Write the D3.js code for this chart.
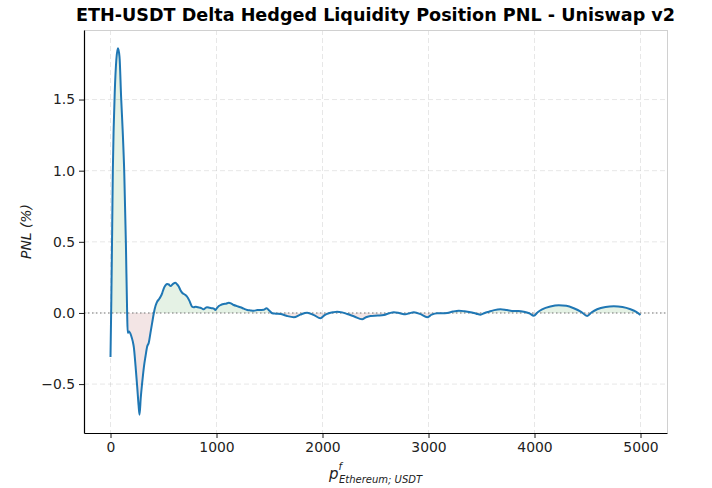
<!DOCTYPE html>
<html>
<head>
<meta charset="utf-8">
<script src="https://cdn.jsdelivr.net/npm/d3@7"></script>
<style>
  body { margin: 0; background: #fff; }
  svg { font-family: "DejaVu Sans", sans-serif; }
</style>
</head>
<body>
<div id="chart"></div>
<script>
// price of ETH in USDT (x) and delta hedged LP PNL in % (y)
const prices = [0, 8, 16, 22, 30, 40, 55, 70, 85, 100, 115, 130, 145, 157, 162, 175, 195, 210, 220, 236, 252, 265, 274, 285, 299, 315, 330, 346, 361, 377,
  393, 409, 425, 440, 456, 472, 488, 503, 520, 535, 550, 566, 590, 613, 630, 645, 660, 676, 700, 723, 745, 770, 785, 802, 825, 849, 865, 880, 895,
  910, 935, 959, 975, 990, 1005, 1022, 1045, 1069, 1090, 1116, 1140, 1163, 1195, 1226, 1258, 1290, 1320, 1352, 1385, 1415, 1445, 1472, 1500, 1525,
  1560, 1604, 1660, 1730, 1790, 1855, 1920, 1981, 2020, 2060, 2100, 2138, 2185, 2233, 2300, 2374, 2410, 2453, 2520, 2579, 2630, 2673, 2730, 2783,
  2820, 2862, 2930, 2987, 3030, 3082, 3130, 3176, 3230, 3286, 3340, 3396, 3450, 3491, 3530, 3569, 3620, 3679, 3740, 3805, 3850, 3899, 3950, 3994,
  4030, 4072, 4150, 4229, 4300, 4371, 4440, 4497, 4540, 4591, 4670, 4748, 4830, 4906, 4960, 5000];
const pnl = [-0.31, 0.1, 0.6, 1.0, 1.3, 1.55, 1.78, 1.86, 1.8, 1.52, 1.28, 0.98, 0.5, 0.0, -0.14, -0.13, -0.16, -0.2, -0.24, -0.37, -0.52, -0.65, -0.715, -0.6, -0.49, -0.38, -0.306, -0.236, -0.21, -0.14,
  -0.07, 0.0, 0.05, 0.079, 0.095, 0.114, 0.14, 0.173, 0.195, 0.203, 0.2, 0.189, 0.205, 0.212, 0.2, 0.184, 0.16, 0.142, 0.13, 0.114, 0.085, 0.044, 0.04, 0.044, 0.04, 0.037, 0.03, 0.026, 0.035,
  0.04, 0.036, 0.033, 0.03, 0.021, 0.035, 0.049, 0.058, 0.063, 0.065, 0.072, 0.066, 0.056, 0.048, 0.04, 0.03, 0.021, 0.018, 0.016, 0.02, 0.021, 0.022, 0.033, 0.015, -0.002,
  -0.005, -0.007, -0.02, -0.03, -0.012, 0.002, -0.015, -0.037, -0.015, -0.002, 0.005, 0.009, 0.004, -0.007, -0.025, -0.044, -0.03, -0.021, -0.018, -0.014, -0.002, 0.005, -0.002, -0.009,
  -0.002, 0.005, -0.01, -0.03, -0.012, -0.002, -0.002, 0.0, 0.01, 0.016, 0.012, 0.005, -0.005, -0.012, 0.0, 0.009, 0.02, 0.026, 0.02, 0.014, 0.014, 0.009, -0.002, -0.019,
  0.005, 0.025, 0.045, 0.054, 0.05, 0.033, 0.008, -0.021, 0.005, 0.026, 0.042, 0.047, 0.042, 0.026, 0.008, -0.014];
const xTicks = [0, 1000, 2000, 3000, 4000, 5000];
const yTicks = [-0.5, 0.0, 0.5, 1.0, 1.5];

const width = 712;
const height = 488;
const margin = {top: 30, right: 45, bottom: 55, left: 84};

const data = prices.map((p, i) => ({x: p, y: pnl[i]}));

const x = d3.scaleLinear().domain([-250, 5250]).range([margin.left, width - margin.right]);
const yMin = d3.min(pnl), yMax = d3.max(pnl), pad = (yMax - yMin) * 0.05;
const y = d3.scaleLinear().domain([yMin - pad, yMax + pad]).range([height - margin.bottom, margin.top]);

const svg = d3.select('#chart')
  .append('svg')
  .attr('width', width)
  .attr('height', height);

const plotW = width - margin.left - margin.right;
const plotH = height - margin.top - margin.bottom;

// grid
svg.append('g')
  .selectAll('line')
  .data(xTicks)
  .join('line')
  .attr('x1', d => x(d)).attr('x2', d => x(d))
  .attr('y1', margin.top).attr('y2', height - margin.bottom)
  .attr('stroke', '#b0b0b0').attr('stroke-opacity', 0.3)
  .attr('stroke-dasharray', '5,3');
svg.append('g')
  .selectAll('line')
  .data(yTicks)
  .join('line')
  .attr('x1', margin.left).attr('x2', width - margin.right)
  .attr('y1', d => y(d)).attr('y2', d => y(d))
  .attr('stroke', '#b0b0b0').attr('stroke-opacity', 0.3)
  .attr('stroke-dasharray', '5,3');

// fills above / below zero, clipped
const defs = svg.append('defs');
defs.append('clipPath').attr('id', 'above')
  .append('rect').attr('x', margin.left).attr('y', margin.top)
  .attr('width', plotW).attr('height', y(0) - margin.top);
defs.append('clipPath').attr('id', 'below')
  .append('rect').attr('x', margin.left).attr('y', y(0))
  .attr('width', plotW).attr('height', height - margin.bottom - y(0));

const area = d3.area()
  .x(d => x(d.x))
  .y0(y(0))
  .y1(d => y(d.y))
  .curve(d3.curveMonotoneX);

svg.append('path')
  .datum(data)
  .attr('d', area)
  .attr('fill', 'green').attr('fill-opacity', 0.1)
  .attr('clip-path', 'url(#above)');
svg.append('path')
  .datum(data)
  .attr('d', area)
  .attr('fill', 'darkred').attr('fill-opacity', 0.1)
  .attr('clip-path', 'url(#below)');

// zero line
svg.append('line')
  .attr('x1', margin.left).attr('x2', width - margin.right)
  .attr('y1', y(0)).attr('y2', y(0))
  .attr('stroke', 'gray').attr('stroke-opacity', 0.7)
  .attr('stroke-width', 1.5)
  .attr('stroke-dasharray', '1.5,2.5');

// pnl line
const line = d3.line()
  .x(d => x(d.x))
  .y(d => y(d.y))
  .curve(d3.curveMonotoneX);

svg.append('path')
  .datum(data)
  .attr('d', line)
  .attr('fill', 'none')
  .attr('stroke', '#1f77b4')
  .attr('stroke-width', 2)
  .attr('stroke-linejoin', 'round');

// spines top/right
svg.append('line')
  .attr('x1', margin.left).attr('x2', width - margin.right)
  .attr('y1', margin.top + 0.5).attr('y2', margin.top + 0.5)
  .attr('stroke', '#d0d0d0');
svg.append('line')
  .attr('x1', width - margin.right + 0.5).attr('x2', width - margin.right + 0.5)
  .attr('y1', margin.top).attr('y2', height - margin.bottom)
  .attr('stroke', '#d0d0d0');

// axes
const xAxis = d3.axisBottom(x).tickValues(xTicks).tickSize(5).tickSizeOuter(0).tickPadding(4).tickFormat(d3.format('d'));
const yAxis = d3.axisLeft(y).tickValues(yTicks).tickSize(5).tickSizeOuter(0).tickPadding(4)
  .tickFormat(d => d3.format('.1f')(d).replace('-', '\u2212'));

const gx = svg.append('g')
  .attr('transform', `translate(0, ${height - margin.bottom})`)
  .call(xAxis);
const gy = svg.append('g')
  .attr('transform', `translate(${margin.left}, 0)`)
  .call(yAxis);

[gx, gy].forEach(g => {
  g.select('.domain').attr('stroke', '#000').attr('stroke-width', 1.2);
  g.selectAll('.tick line').attr('stroke', '#000').attr('stroke-width', 0.9);
  g.selectAll('.tick text').attr('font-size', 13.9).attr('fill', '#222')
    .attr('font-family', '"DejaVu Sans", sans-serif');
});

// title
svg.append('text')
  .attr('x', margin.left + plotW / 2)
  .attr('y', 21)
  .attr('text-anchor', 'middle')
  .attr('font-size', 17.6)
  .attr('font-weight', 'bold')
  .text('ETH-USDT Delta Hedged Liquidity Position PNL - Uniswap v2');

// y label
svg.append('text')
  .attr('transform', `translate(31, ${margin.top + plotH / 2}) rotate(-90)`)
  .attr('text-anchor', 'middle')
  .attr('font-size', 13.9)
  .attr('font-style', 'italic')
  .attr('fill', '#222')
  .text('PNL (%)');

// x label: p^f_{Ethereum; USDT}
const xl = svg.append('text')
  .attr('x', margin.left + plotW / 2)
  .attr('y', 479)
  .attr('text-anchor', 'middle')
  .attr('font-style', 'italic')
  .attr('fill', '#222');
xl.append('tspan').attr('font-size', 15).text('p');
xl.append('tspan').attr('font-size', 10).attr('dy', -9).text('f');
xl.append('tspan').attr('font-size', 10).attr('dx', -3).attr('dy', 13).text('Ethereum; USDT');
</script>
</body>
</html>
